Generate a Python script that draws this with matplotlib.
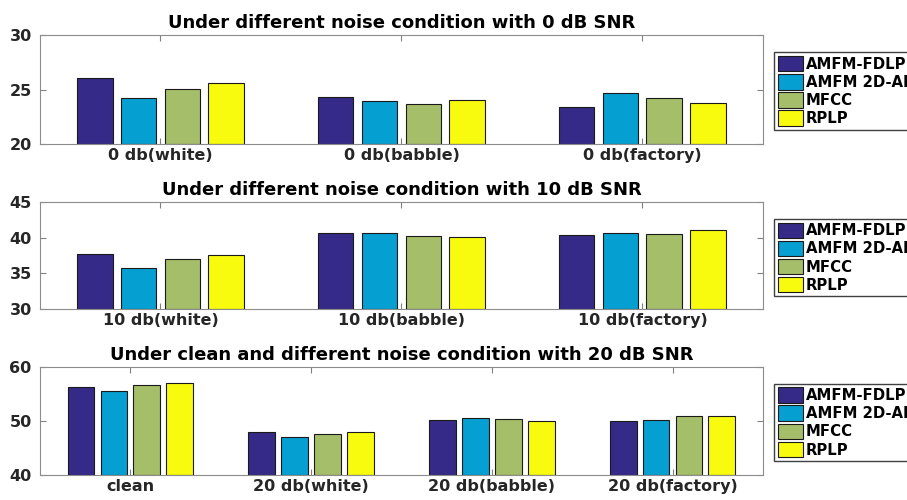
import matplotlib.pyplot as plt
import numpy as np

# Data
methods = ["AMFM-FDLP", "AMFM 2D-AR", "MFCC", "RPLP"]
colors = ["#352a87", "#069fd1", "#a5be6a", "#f9fb0e"]

cats_0db = ["0 db(white)", "0 db(babble)", "0 db(factory)"]
fdlp_0db = [26.07, 24.3, 23.38]
ar2d_0db = [24.22, 23.94, 24.68]
mfcc_0db = [25.08, 23.7, 24.22]
rplp_0db = [25.6, 24.0, 23.76]

cats_10db = ["10 db(white)", "10 db(babble)", "10 db(factory)"]
fdlp_10db = [37.76, 40.68, 40.31]
ar2d_10db = [35.8, 40.68, 40.59]
mfcc_10db = [36.97, 40.17, 40.45]
rplp_10db = [37.52, 40.08, 41.0]

cats_20db = ["clean", "20 db(white)", "20 db(babble)", "20 db(factory)"]
fdlp_20db = [56.17, 47.96, 50.12, 49.88]
ar2d_20db = [55.49, 46.91, 50.43, 50.12]
mfcc_20db = [56.6, 47.53, 50.31, 50.8]
rplp_20db = [56.9, 47.84, 50.0, 50.8]

panels = [
    ("Under different noise condition with 0 dB SNR", cats_0db,
     [fdlp_0db, ar2d_0db, mfcc_0db, rplp_0db], (20, 30), [20, 25, 30]),
    ("Under different noise condition with 10 dB SNR", cats_10db,
     [fdlp_10db, ar2d_10db, mfcc_10db, rplp_10db], (30, 45), [30, 35, 40, 45]),
    ("Under clean and different noise condition with 20 dB SNR", cats_20db,
     [fdlp_20db, ar2d_20db, mfcc_20db, rplp_20db], (40, 60), [40, 50, 60]),
]

# axes rectangles in figure fractions (left, bottom, width, height)
rects = [
    (0.0441, 0.712, 0.797, 0.218),
    (0.0441, 0.3814, 0.797, 0.215),
    (0.0441, 0.0506, 0.797, 0.216),
]

plt.rcParams['font.family'] = 'DejaVu Sans'
plt.rcParams['font.weight'] = 'bold'

fig = plt.figure(figsize=(9.07, 5.0), dpi=100, facecolor='white')

spacing = 0.182
width = 0.148
offsets = (np.arange(4) - 1.5) * spacing

for (title, cats, series, ylim, yticks), rect in zip(panels, rects):
    ax = fig.add_axes(rect)
    x = np.arange(1, len(cats) + 1)
    for k, vals in enumerate(series):
        ax.bar(x + offsets[k], np.array(vals) - ylim[0], width, bottom=ylim[0],
               color=colors[k], edgecolor='#1a1a1a', linewidth=0.8, label=methods[k])
    ax.set_xlim(0.5, len(cats) + 0.5)
    ax.set_ylim(*ylim)
    ax.set_xticks(x)
    ax.set_xticklabels(cats, fontsize=11.5, fontweight='bold', color='#262626')
    ax.set_yticks(yticks)
    ax.set_yticklabels([str(t) for t in yticks], fontsize=11.5, fontweight='bold', color='#262626')
    ax.tick_params(direction='in', length=4, top=True, right=True, color='#808080', pad=3)
    ax.tick_params(axis='y', pad=6)
    for s in ax.spines.values():
        s.set_color('#8c8c8c')
        s.set_linewidth(0.8)
    ax.set_title(title, fontsize=13, fontweight='bold', pad=5)
    top = rect[1] + rect[3]
    # the legend runs past the right edge of the figure, as in the original
    ax.legend(loc='upper left', bbox_to_anchor=(774 / 907, top - 0.034),
              bbox_transform=fig.transFigure, prop={'weight': 'bold', 'size': 10.7},
              frameon=True, fancybox=False, edgecolor='#404040', framealpha=1,
              borderpad=0.25, labelspacing=0.15, handlelength=1.7, handleheight=1.25,
              handletextpad=0.2, borderaxespad=0)

fig.savefig('out.png', dpi=100)
